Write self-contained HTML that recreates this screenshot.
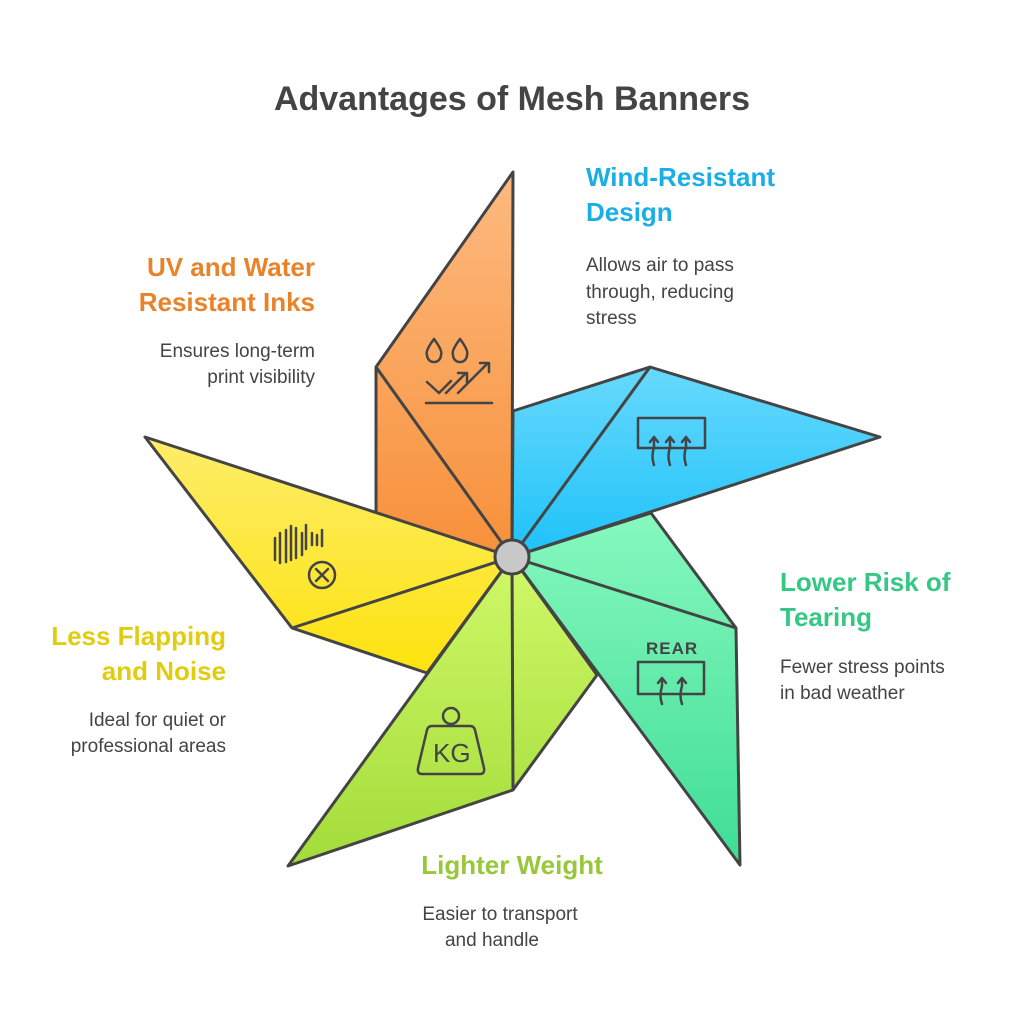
<!DOCTYPE html>
<html><head><meta charset="utf-8"><style>
body{margin:0;background:#fff;}
svg{display:block;}
text{font-family:"Liberation Sans",sans-serif;}
.t{font-weight:bold;font-size:26px;}
.d{font-size:19px;fill:#444;}
</style></head><body>
<svg width="1024" height="1024" viewBox="0 0 1024 1024">
<defs>
<linearGradient id="go" x1="0" y1="0" x2="0" y2="1"><stop offset="0" stop-color="#fdba80"/><stop offset="1" stop-color="#f7903a"/></linearGradient>
<linearGradient id="gb" x1="0" y1="0" x2="0" y2="1"><stop offset="0" stop-color="#67d9fc"/><stop offset="1" stop-color="#1ec2fa"/></linearGradient>
<linearGradient id="gg" x1="0" y1="0" x2="0" y2="1"><stop offset="0" stop-color="#86f8be"/><stop offset="1" stop-color="#3edd96"/></linearGradient>
<linearGradient id="gl" x1="0" y1="0" x2="0" y2="1"><stop offset="0" stop-color="#d0f868"/><stop offset="1" stop-color="#a3dc3a"/></linearGradient>
<linearGradient id="gy" x1="0" y1="0" x2="0" y2="1"><stop offset="0" stop-color="#fded6a"/><stop offset="1" stop-color="#fde30e"/></linearGradient>
</defs>
<text x="512" y="110" text-anchor="middle" style="font-weight:bold;font-size:34px;fill:#444">Advantages of Mesh Banners</text>
<g stroke="#444" stroke-width="3" stroke-linejoin="round">
<polygon points="512,557 513,172 376,367 376,528" fill="url(#go)"/>
<line x1="376" y1="367" x2="512" y2="557"/>
<polygon points="512,557 513,411 650,367 880,437" fill="url(#gb)"/>
<line x1="650" y1="367" x2="512" y2="557"/>
<polygon points="512,557 651,513 736,628 740,865" fill="url(#gg)"/>
<line x1="736" y1="628" x2="512" y2="557"/>
<polygon points="512,557 597,675 513,790 288,866" fill="url(#gl)"/>
<line x1="513" y1="790" x2="512" y2="557"/>
<polygon points="512,557 427,673 292,628 145,437" fill="url(#gy)"/>
<line x1="292" y1="628" x2="512" y2="557"/>
<circle cx="512" cy="557" r="17" fill="#c8c8c8"/>
</g>
<g stroke="#444" stroke-width="2.5" fill="none" stroke-linecap="round" stroke-linejoin="round">
<path d="M434 339 q-9 12 -7 16 a7 7 0 0 0 14 0 q2-4 -7-16z M460 339 q-9 12 -7 16 a7 7 0 0 0 14 0 q2-4 -7-16z"/>
<path d="M427 382 l12 11 l12-12 M446 393 l20-20 M458 373 h9 v9 M458 393 l30-30 M480 363 h9 v9"/>
<line x1="426" y1="403" x2="492" y2="403"/>
<rect x="638" y="418" width="67" height="30"/>
<path d="M654 465 q-3-8 0-18 l0-10 M650 442 l4-5 4 5 M670 465 q-3-8 0-18 l0-10 M666 442 l4-5 4 5 M686 465 q-3-8 0-18 l0-10 M682 442 l4-5 4 5"/>
<rect x="638" y="662" width="66" height="32"/>
<path d="M662 704 q-3-8 0-18 l0-8 M658 683 l4-5 4 5 M682 704 q-3-8 0-18 l0-8 M678 683 l4-5 4 5"/>
<path d="M275 538 v22 M280 533 v30 M286 530 v32 M291 526 v34 M296 528 v30 M302 533 v22 M306 525 v24 M312 533 v12 M317 535 v10 M322 530 v16"/>
<circle cx="322" cy="575" r="13"/>
<path d="M316 569 l12 12 M328 569 l-12 12"/>
<circle cx="451" cy="716" r="8"/>
<path d="M432 726 h38 q4 0 5 4 l9 38 q1 6 -4 6 h-58 q-5 0 -4-6 l9-38 q1-4 5-4z"/>
</g>
<text x="646" y="654" style="font-weight:bold;font-size:17px;fill:#444;letter-spacing:1px">REAR</text>
<text x="433" y="762" style="font-size:26px;fill:#444">KG</text>
<text class="t" x="315" y="276" text-anchor="end" fill="#e8832a">UV and Water</text>
<text class="t" x="315" y="311" text-anchor="end" fill="#e8832a">Resistant Inks</text>
<text class="d" x="315" y="357" text-anchor="end">Ensures long-term</text>
<text class="d" x="315" y="383" text-anchor="end">print visibility</text>
<text class="t" x="586" y="186" fill="#1aaee6">Wind-Resistant</text>
<text class="t" x="586" y="221" fill="#1aaee6">Design</text>
<text class="d" x="586" y="271">Allows air to pass</text>
<text class="d" x="586" y="298">through, reducing</text>
<text class="d" x="586" y="324">stress</text>
<text class="t" x="780" y="591" fill="#35c784">Lower Risk of</text>
<text class="t" x="780" y="626" fill="#35c784">Tearing</text>
<text class="d" x="780" y="673">Fewer stress points</text>
<text class="d" x="780" y="699">in bad weather</text>
<text class="t" x="226" y="645" text-anchor="end" fill="#e2cc10">Less Flapping</text>
<text class="t" x="226" y="680" text-anchor="end" fill="#e2cc10">and Noise</text>
<text class="d" x="226" y="726" text-anchor="end">Ideal for quiet or</text>
<text class="d" x="226" y="752" text-anchor="end">professional areas</text>
<text class="t" x="512" y="874" text-anchor="middle" fill="#98c83a">Lighter Weight</text>
<text class="d" x="500" y="920" text-anchor="middle">Easier to transport</text>
<text class="d" x="492" y="946" text-anchor="middle">and handle</text>
</svg>
</body></html>
